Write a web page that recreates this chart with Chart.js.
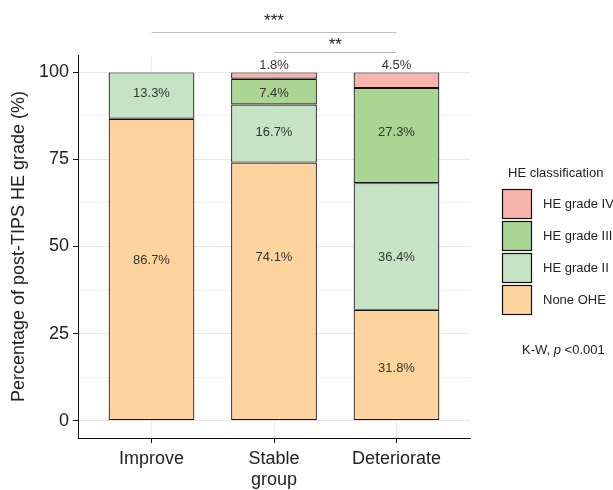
<!DOCTYPE html>
<html>
<head>
<meta charset="utf-8">
<script src="https://cdn.jsdelivr.net/npm/chart.js@4.4.1/dist/chart.umd.min.js"></script>
<style>
  html, body { margin: 0; padding: 0; background: #fff; }
  #wrap { width: 613px; height: 490px; }
</style>
</head>
<body>
<div id="wrap"><canvas id="heChart"></canvas></div>
<script>
// data
const groups = ['Improve', 'Stable', 'Deteriorate'];
const noneOHE = [86.7, 74.1, 31.8];
const gradeII = [13.3, 16.7, 36.4];
const gradeIII = [0, 7.4, 27.3];
const gradeIV = [0, 1.8, 4.5];
const yTicks = [0, 25, 50, 75, 100];
const seriesNames = ['None OHE', 'HE grade II', 'HE grade III', 'HE grade IV'];
const seriesColors = ['#FDD49E', '#C7E3C6', '#ABD592', '#F8B5AE'];

const FONT = '"Liberation Sans", Arial, sans-serif';

const toPoints = vals => vals.map((v, i) => ({ x: i + 1, y: v }));

const overlay = {
    id: 'overlay',
    afterDatasetsDraw(chart, args, opts) {
        const { ctx, scales: { x, y } } = chart;
        ctx.save();
        // percentage labels
        ctx.font = '13px ' + FONT;
        ctx.fillStyle = '#333';
        ctx.textAlign = 'center';
        ctx.textBaseline = 'middle';
        chart.data.datasets.forEach((ds, i) => {
            ds.data.forEach((p, j) => {
                if (!p.y) return;
                const at = opts.anchors[i][j];
                ctx.fillText(p.y.toFixed(1) + '%', x.getPixelForValue(p.x), y.getPixelForValue(at));
            });
        });
        // significance brackets
        ctx.strokeStyle = '#BDBDBD';
        ctx.lineWidth = 1;
        ctx.font = '17px ' + FONT;
        ctx.fillStyle = '#222';
        opts.brackets.forEach(b => {
            const x1 = x.getPixelForValue(b.from), x2 = x.getPixelForValue(b.to);
            const ly = Math.round(y.getPixelForValue(b.line)) + 0.5;
            ctx.beginPath();
            ctx.moveTo(x1, ly);
            ctx.lineTo(x2, ly);
            ctx.stroke();
            ctx.fillText(b.text, (x1 + x2) / 2, y.getPixelForValue(b.label));
        });
        ctx.restore();
    },
    afterDraw(chart) {
        const { ctx } = chart;
        ctx.save();
        ctx.fillStyle = '#222';
        ctx.textBaseline = 'middle';
        ctx.textAlign = 'left';
        ctx.font = '13px ' + FONT;
        ctx.fillText('HE classification', 508, 173);
        const items = chart.data.datasets.slice().reverse();
        items.forEach((ds, k) => {
            const top = 189 + k * 32;
            ctx.fillStyle = ds.backgroundColor;
            ctx.fillRect(502, top, 30, 30);
            ctx.strokeStyle = '#111';
            ctx.lineWidth = 1.2;
            ctx.strokeRect(502.5, top + 0.5, 29, 29);
            ctx.fillStyle = '#222';
            ctx.fillText(ds.label, 543, top + 15);
        });
        // K-W note
        let tx = 522;
        const ty = 350;
        ctx.font = '13px ' + FONT;
        ctx.fillText('K-W, ', tx, ty);
        tx += ctx.measureText('K-W, ').width;
        ctx.font = 'italic 13px ' + FONT;
        ctx.fillText('p', tx, ty);
        tx += ctx.measureText('p').width;
        ctx.font = '13px ' + FONT;
        ctx.fillText(' <0.001', tx, ty);
        ctx.restore();
    }
};

const allSeries = [noneOHE, gradeII, gradeIII, gradeIV];

new Chart(document.getElementById('heChart'), {
    type: 'bar',
    data: {
        datasets: allSeries.map((vals, i) => ({
            label: seriesNames[i],
            data: toPoints(vals),
            backgroundColor: seriesColors[i],
            borderColor: '#111',
            borderWidth: 1.2,
            borderSkipped: false,
            categoryPercentage: 1,
            barPercentage: 0.7
        }))
    },
    options: {
        responsive: true,
        maintainAspectRatio: false,
        animation: false,
        layout: { padding: { top: 55, right: 143, bottom: 0, left: 0 } },
        plugins: {
            legend: { display: false },
            tooltip: { enabled: false },
            overlay: {
                anchors: [
                    [46.1, 47, 15],
                    [94, 82.8, 47],
                    [0, 94, 82.7],
                    [0, 102, 102]
                ],
                brackets: [
                    { from: 1, to: 3, line: 111.5, label: 114.6, text: '***' },
                    { from: 2, to: 3, line: 105.9, label: 107.8, text: '**' }
                ]
            }
        },
        scales: {
            x: {
                type: 'linear',
                stacked: true,
                offset: false,
                min: 0.4,
                max: 3.6,
                afterBuildTicks: s => { s.ticks = groups.map((g, i) => ({ value: i + 1 })); },
                afterFit: s => { s.height = 52; },
                ticks: {
                    callback: v => groups[v - 1],
                    color: '#222',
                    font: { family: FONT, size: 18 },
                    padding: 5,
                    maxRotation: 0
                },
                grid: { offset: false, color: '#EBEBEB', tickColor: '#111', tickLength: 5 },
                border: { display: true, color: '#111', width: 1 },
                title: {
                    display: true,
                    text: 'group',
                    color: '#222',
                    font: { family: FONT, size: 18 },
                    padding: { top: 0, bottom: -1 }
                }
            },
            y: {
                stacked: true,
                min: -5,
                max: 105,
                afterBuildTicks: s => {
                    const t = [];
                    yTicks.forEach((v, i) => {
                        t.push({ value: v });
                        if (i < yTicks.length - 1) t.push({ value: (v + yTicks[i + 1]) / 2 });
                    });
                    s.ticks = t;
                },
                afterFit: s => { s.width = 78; },
                ticks: {
                    callback: v => (yTicks.includes(v) ? v : ''),
                    color: '#222',
                    font: { family: FONT, size: 18 },
                    padding: 4
                },
                grid: {
                    color: c => (c.tick && yTicks.includes(c.tick.value) ? '#E6E6E6' : '#F2F2F2'),
                    tickColor: c => (c.tick && yTicks.includes(c.tick.value) ? '#111' : 'rgba(0,0,0,0)'),
                    tickLength: 5
                },
                border: { display: true, color: '#111', width: 1 },
                title: {
                    display: true,
                    text: 'Percentage of post-TIPS HE grade (%)',
                    color: '#222',
                    font: { family: FONT, size: 18 },
                    padding: { top: 8, bottom: 0 }
                }
            }
        }
    },
    plugins: [overlay]
});
</script>
</body>
</html>
